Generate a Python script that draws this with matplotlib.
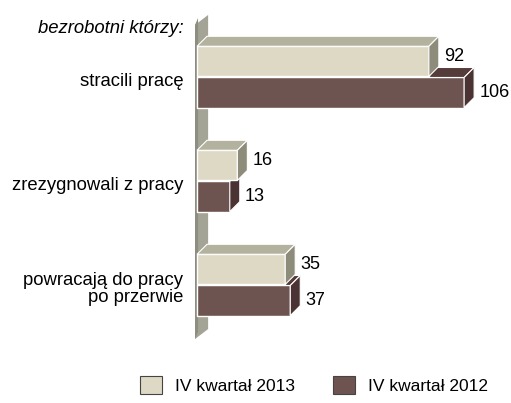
import numpy as np
import matplotlib.pyplot as plt
from matplotlib.patches import Polygon, Patch

plt.rcParams['font.family'] = ['Liberation Sans', 'DejaVu Sans']

categories = ['stracili pracę', 'zrezygnowali z pracy', 'powracają do pracy\npo przerwie']
header = 'bezrobotni którzy:'
series_names = ['IV kwartał 2013', 'IV kwartał 2012']
q4_2013 = [92, 16, 35]
q4_2012 = [106, 13, 37]

front = ['#DDD9C4', '#6E5450']
top = ['#B3B29E', '#553C3A']
side = ['#8D8C7B', '#4A3332']

fig = plt.figure(figsize=(5.11, 4.03), dpi=100)
ax = fig.add_axes([0, 0, 1, 1])
ax.set_xlim(-78.2, 124.6)
ax.set_ylim(3.135, -0.74)
ax.axis('off')

# depth of the fake 3d, in data units (~10 px each way)
dx = 10 / 2.52
dy = 10 / 104.0
h = 0.29
y = np.arange(len(categories))

# grey wall behind the bars
wx0, wx1 = -0.8, 4.4
wy0, wy1 = -0.5, 2.52
ax.add_patch(Polygon([(wx0, wy0), (wx1, wy0 - dy), (wx1, wy1 - dy), (wx0, wy1)],
                     closed=True, facecolor='#A4A496', edgecolor='none', zorder=1))
ax.add_patch(Polygon([(wx0, wy0), (wx0 + 1.2, wy0 - dy * 0.7), (wx0 + 1.2, wy1 - dy * 0.7), (wx0, wy1)],
                     closed=True, facecolor='#8E8E80', edgecolor='none', zorder=1))


def bar3d(vals, offset, i, z, lift):
    for k, v in enumerate(vals):
        yc = y[k] + offset
        y0, y1 = yc - h / 2, yc + h / 2
        ax.barh(yc, v, height=h, color=front[i], edgecolor='white', linewidth=1.0, zorder=z)
        ax.add_patch(Polygon([(0, y0), (dx, y0 - dy), (v + dx, y0 - dy), (v, y0)], closed=True,
                             facecolor=top[i], edgecolor='white', linewidth=0.8, zorder=z))
        ax.add_patch(Polygon([(v, y0), (v + dx, y0 - dy), (v + dx, y1 - dy), (v, y1)], closed=True,
                             facecolor=side[i], edgecolor='white', linewidth=0.8, zorder=z))
        ax.text(v + dx + 2.0, yc - lift, str(v), va='center', ha='left', fontsize=13, color='black')


bar3d(q4_2012, h / 2 + 0.005, 1, 2, 0.0)
bar3d(q4_2013, -h / 2 - 0.005, 0, 3, 0.05)

for k, c in enumerate(categories):
    ax.text(-5.5, y[k] + 0.04, c, ha='right', va='center', fontsize=13.3, linespacing=1.05)
ax.text(-5.5, -0.47, header, ha='right', va='center', fontsize=13.3, style='italic')

handles = [Patch(facecolor=front[0], edgecolor='#444444', linewidth=0.8),
           Patch(facecolor=front[1], edgecolor='#444444', linewidth=0.8)]
fig.legend(handles, series_names, loc='center', bbox_to_anchor=(0.615, 0.045), ncol=2,
           frameon=False, fontsize=12.5, handlelength=1.25, handleheight=1.25,
           handletextpad=0.75, columnspacing=2.2)

fig.savefig('out.png', dpi=100)
